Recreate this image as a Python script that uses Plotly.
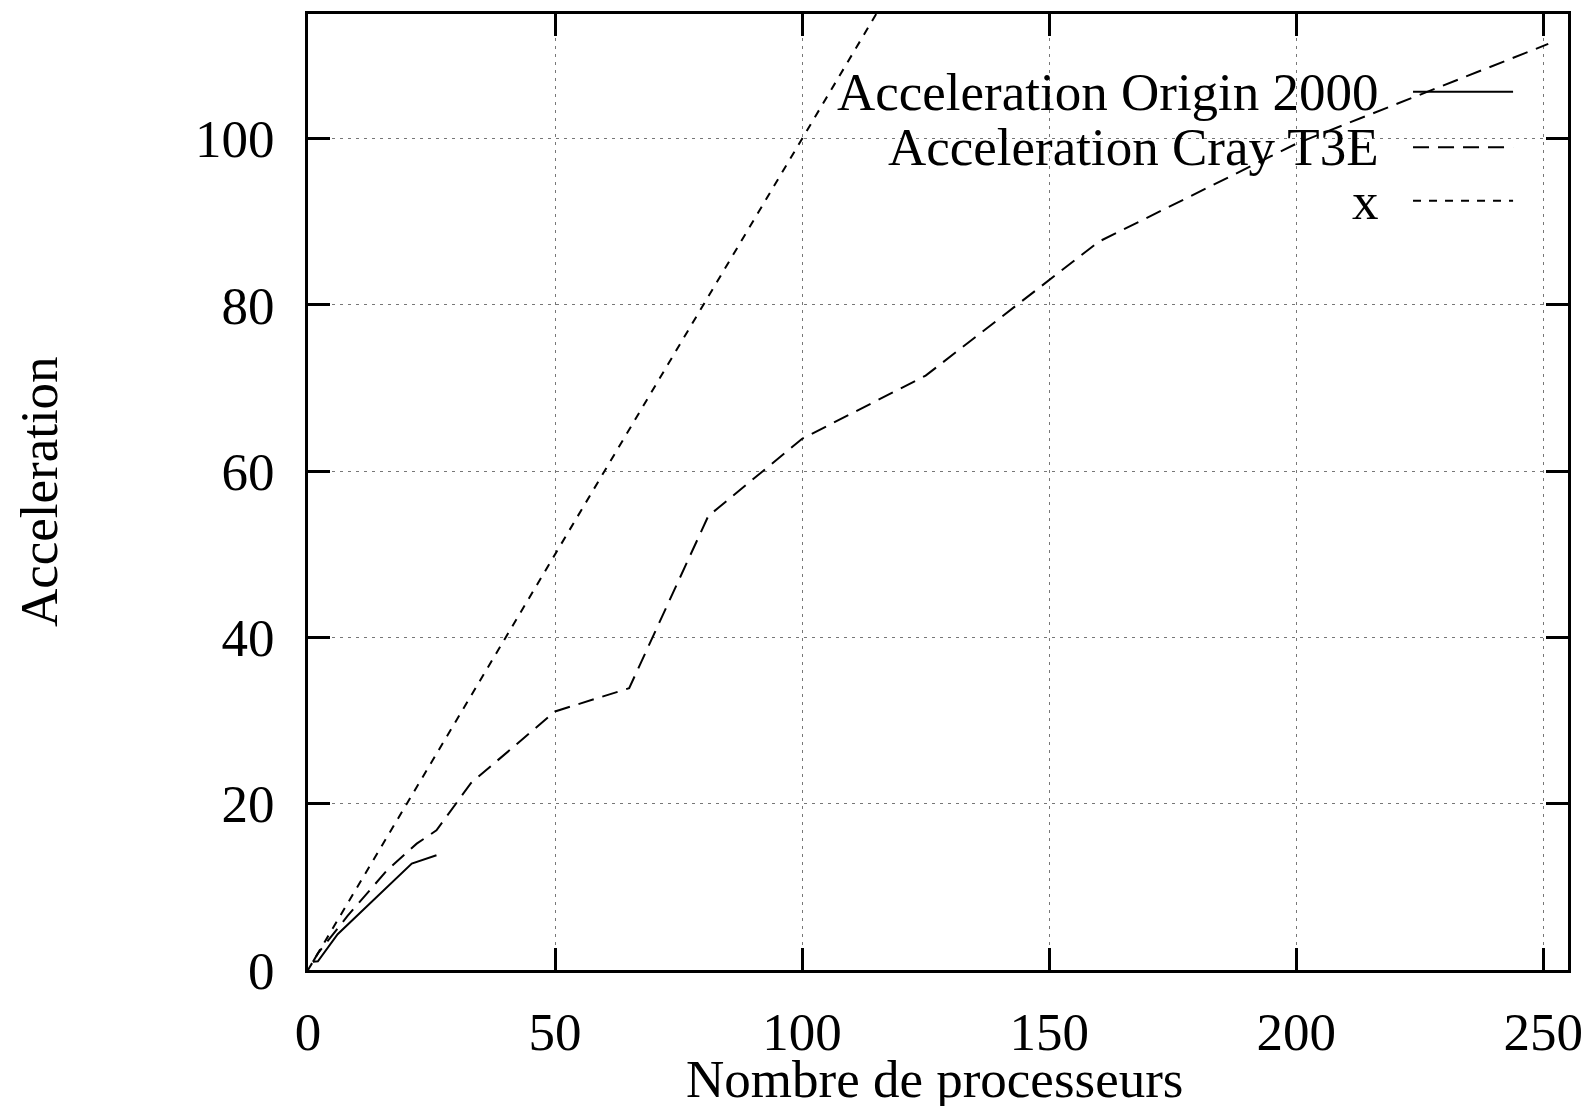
import plotly.graph_objects as go

# ---- data ----
origin_x = [1, 2, 6, 21, 26]
origin_y = [1.0, 1.05, 4.3, 12.8, 13.8]

cray_x = [1, 2, 4, 8, 16, 22, 26, 33, 50, 65, 81, 100, 125, 160, 200, 251]
cray_y = [1.0, 2.0, 3.5, 6.5, 12.0, 15.2, 16.8, 22.5, 31.1, 33.9, 54.6, 63.9, 71.5, 87.6, 99.4, 111.4]

ideal_x = [0, 256]
ideal_y = [0, 256]

series_names = ["Acceleration Origin 2000", "Acceleration Cray T3E", "x"]
series_dash = ["solid", "16px,9px", "8px,8px"]

x_ticks = [0, 50, 100, 150, 200, 250]
y_ticks = [0, 20, 40, 60, 80, 100]
x_title = "Nombre de processeurs"
y_title = "Acceleration"

FONT = "Liberation Serif, Times New Roman, serif"
FS = 53

fig = go.Figure()
for xs, ys, name, dash in zip([origin_x, cray_x, ideal_x], [origin_y, cray_y, ideal_y], series_names, series_dash):
    fig.add_trace(go.Scatter(x=xs, y=ys, mode="lines", name=name,
                             line=dict(color="black", width=2, dash=dash),
                             showlegend=False))

# gnuplot-style legend: right-aligned text with line sample to the right
legend_rows_y = [0.9187, 0.8605, 0.8046]
for name, dash, yy in zip(series_names, series_dash, legend_rows_y):
    fig.add_annotation(xref="paper", yref="paper", x=0.8516, y=yy, text=name,
                       showarrow=False, xanchor="right", yanchor="middle",
                       font=dict(family=FONT, size=FS, color="black"))
    fig.add_shape(type="line", xref="paper", yref="paper", x0=0.877, x1=0.9564,
                  y0=yy, y1=yy, line=dict(color="black", width=2, dash=dash))

# axis titles
fig.add_annotation(xref="paper", yref="paper", x=0.4975, y=-0.1145, text=x_title,
                   showarrow=False, xanchor="center", yanchor="middle",
                   font=dict(family=FONT, size=FS, color="black"))
fig.add_annotation(xref="paper", yref="paper", x=-0.2134, y=0.5, text=y_title,
                   showarrow=False, xanchor="center", yanchor="middle", textangle=-90,
                   font=dict(family=FONT, size=FS, color="black"))

axis_common = dict(showline=True, linecolor="black", linewidth=3, mirror="ticks",
                   ticks="inside", ticklen=22, tickwidth=3, tickcolor="black",
                   showgrid=True, gridcolor="#777777", gridwidth=1, griddash="3px,5px",
                   zeroline=False, tickfont=dict(family=FONT, size=FS, color="black"))

fig.update_xaxes(range=[0, 255], tickvals=x_ticks, ticktext=[str(v) for v in x_ticks],
                 ticklabelstandoff=13, **axis_common)
fig.update_yaxes(range=[0, 115], tickvals=y_ticks, ticktext=[str(v) for v in y_ticks],
                 ticklabelstandoff=20, **axis_common)

# page body adds an 8px offset; margins compensate so the plot area matches
fig.update_layout(width=1584, height=1098,
                  margin=dict(l=300, r=24, t=6, b=136, autoexpand=False),
                  paper_bgcolor="white", plot_bgcolor="white",
                  font=dict(family=FONT, size=FS, color="black"))

fig.write_html("out.html")
